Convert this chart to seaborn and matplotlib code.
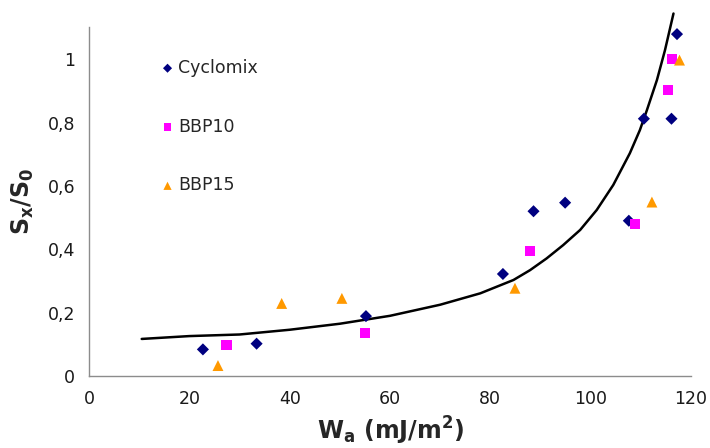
import matplotlib

matplotlib.use("Agg")

import matplotlib.pyplot as plt
import seaborn as sns
import pandas as pd
from matplotlib.ticker import FuncFormatter

cyclomix_x = [22.7, 33.4, 55.2, 82.5, 88.6, 94.9, 107.6, 110.6, 116.1, 117.2]
cyclomix_y = [0.084, 0.102, 0.189, 0.322, 0.520, 0.547, 0.490, 0.812, 0.812, 1.079]

bbp10_x = [27.4, 55.0, 87.9, 108.8, 115.4, 116.2]
bbp10_y = [0.098, 0.137, 0.395, 0.480, 0.904, 0.999]

bbp15_x = [25.7, 38.4, 50.4, 84.9, 112.2, 117.7]
bbp15_y = [0.033, 0.229, 0.245, 0.277, 0.549, 0.997]

# fitted trend curve
curve_x = [10.5, 20, 30, 40, 50, 60, 70, 78, 84.6, 87.9, 91.2, 94.5, 97.9,
           101.2, 104.5, 107.8, 109.8, 111.2, 113.2, 114.8, 116.5]
curve_y = [0.117, 0.126, 0.131, 0.146, 0.165, 0.190, 0.225, 0.261, 0.303,
           0.334, 0.371, 0.413, 0.461, 0.524, 0.603, 0.703, 0.776, 0.839,
           0.934, 1.028, 1.144]

series_names = ["Cyclomix", "BBP10", "BBP15"]
series_colors = {"Cyclomix": "#000080", "BBP10": "#FF00FF", "BBP15": "#FF9900"}
series_markers = {"Cyclomix": "D", "BBP10": "s", "BBP15": "^"}
series_sizes = {"Cyclomix": 38, "BBP10": 52, "BBP15": 62}

points = pd.concat([
    pd.DataFrame({"Wa": cyclomix_x, "ratio": cyclomix_y, "sample": "Cyclomix"}),
    pd.DataFrame({"Wa": bbp10_x, "ratio": bbp10_y, "sample": "BBP10"}),
    pd.DataFrame({"Wa": bbp15_x, "ratio": bbp15_y, "sample": "BBP15"}),
], ignore_index=True)
curve = pd.DataFrame({"Wa": curve_x, "ratio": curve_y})

sns.set_style("white")
plt.rcParams["font.family"] = ["DejaVu Sans"]

fig = plt.figure(figsize=(7.1, 4.48), dpi=100)
ax = fig.add_axes([0.1254, 0.1607, 0.8479, 0.778])

sns.lineplot(data=curve, x="Wa", y="ratio", color="black", linewidth=1.8,
             ax=ax, legend=False, sort=False)
for line in ax.lines:
    line.set_clip_on(False)

for name in series_names:
    sub = points[points["sample"] == name]
    sns.scatterplot(data=sub, x="Wa", y="ratio", color=series_colors[name],
                    marker=series_markers[name], s=series_sizes[name],
                    edgecolor="none", label=name, ax=ax, zorder=3)

ax.set_xlim(0, 120)
ax.set_ylim(0, 1.1)
ax.set_xticks([0, 20, 40, 60, 80, 100, 120])
ax.set_yticks([0, 0.2, 0.4, 0.6, 0.8, 1.0])
ax.yaxis.set_major_formatter(
    FuncFormatter(lambda v, _: f"{v:g}".replace(".", ","))
)

for side in ["top", "right"]:
    ax.spines[side].set_visible(False)
for side in ["left", "bottom"]:
    ax.spines[side].set_color("#8c8c8c")
    ax.spines[side].set_linewidth(1.0)

ax.tick_params(axis="both", direction="out", length=4, width=1,
               color="#8c8c8c", labelsize=12.5, labelcolor="#1a1a1a", pad=6)

ax.set_xlabel(r"W$_\mathbf{a}$ (mJ/m$^\mathbf{2}$)", fontsize=17,
              fontweight="bold", labelpad=5)
ax.set_ylabel(r"S$_\mathbf{x}$/S$_\mathbf{0}$", fontsize=17,
              fontweight="bold", labelpad=8)

leg = ax.legend(loc="upper left", bbox_to_anchor=(0.09, 0.955), frameon=False,
                fontsize=12.5, labelspacing=2.35, handletextpad=0.1,
                handlelength=1.0, markerscale=0.75)

fig.savefig("out.png", dpi=100)
